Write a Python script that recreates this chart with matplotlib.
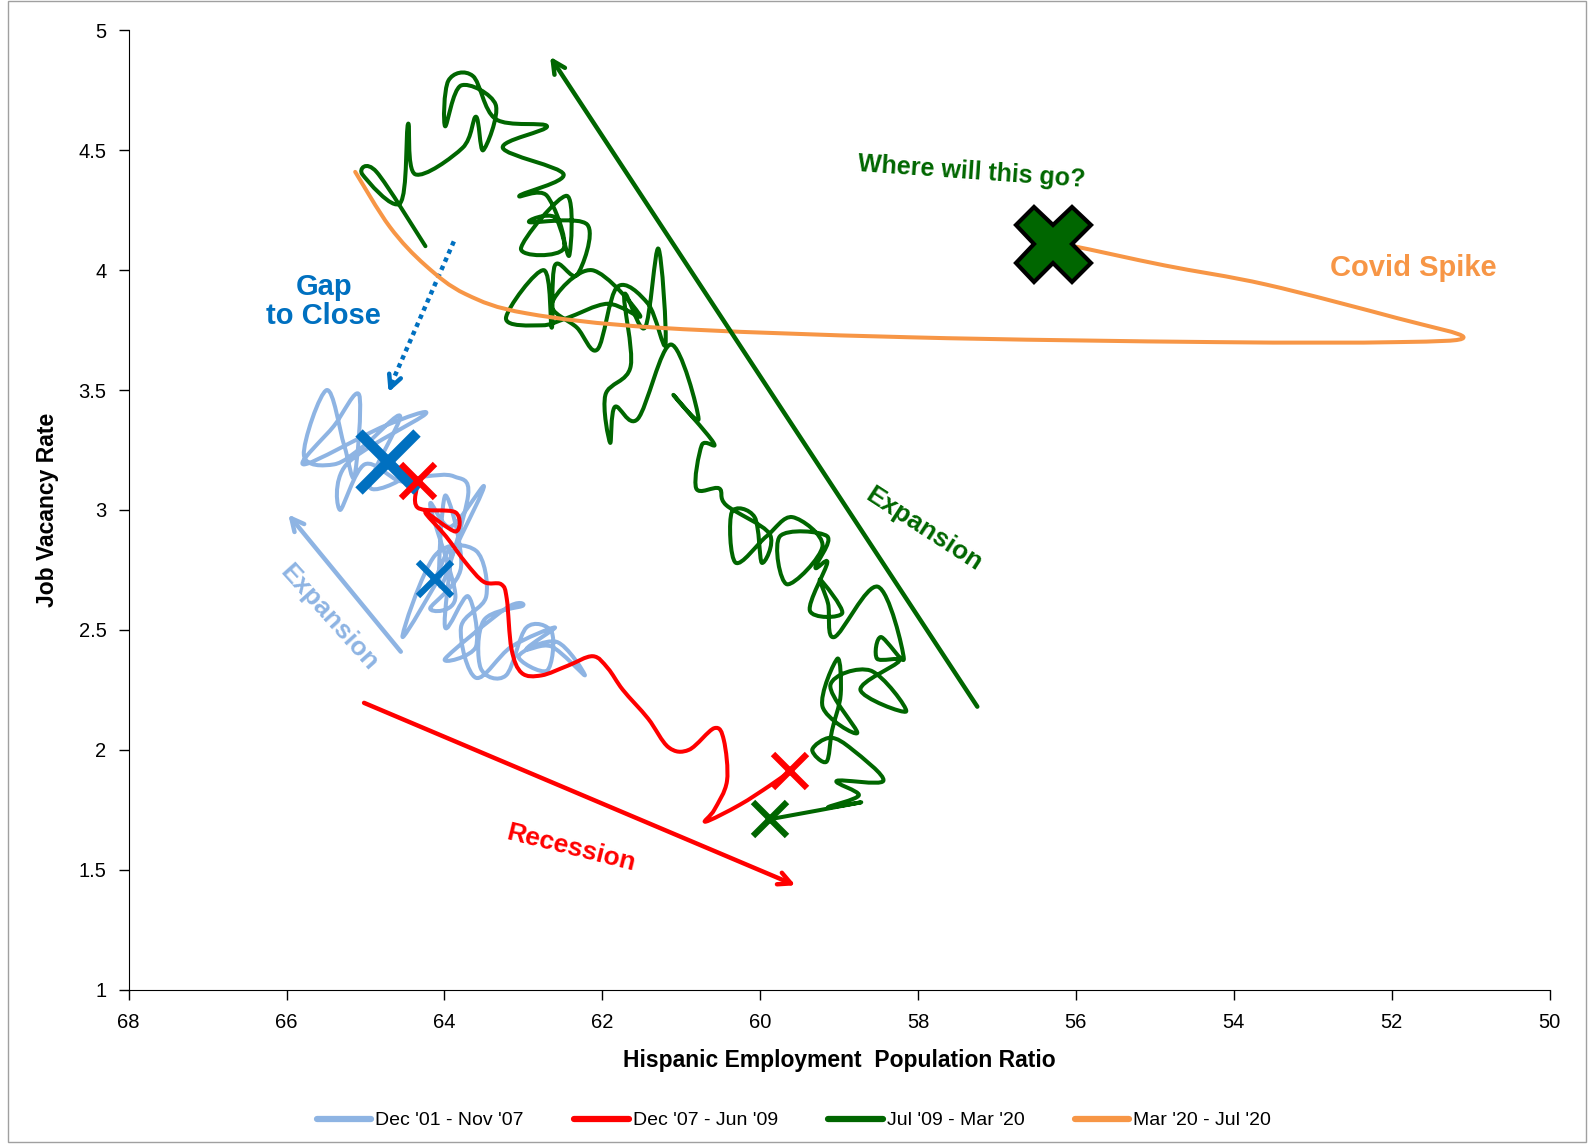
import numpy as np
import matplotlib
matplotlib.use('Agg')
import matplotlib.pyplot as plt
from matplotlib.path import Path
from matplotlib.patches import PathPatch, Rectangle

plt.rcParams['font.family'] = ['Liberation Sans', 'DejaVu Sans']

# ---- data (x = Hispanic EPOP, y = job vacancy rate) ----
blue_x = [64.12, 63.92, 63.99, 63.70, 63.60, 63.99, 63.22, 63.01, 63.50, 63.54,
          63.22, 62.96, 62.64, 62.70, 63.06, 62.58, 62.22, 62.64, 62.96, 62.60,
          63.15, 63.60, 63.79, 63.47, 63.60, 64.12, 64.53, 63.99, 63.79, 63.50,
          63.92, 64.18, 63.86, 64.18, 63.79, 63.99, 64.05, 63.70, 63.88, 64.24,
          64.56, 65.01, 65.32, 65.24, 64.24, 64.76, 65.78, 65.40, 65.08, 65.14,
          65.27, 65.49, 65.78, 65.40, 65.01, 64.56, 64.95, 64.50, 64.72]
blue_y = [2.71, 2.83, 2.51, 2.64, 2.43, 2.38, 2.59, 2.60, 2.54, 2.34,
          2.31, 2.51, 2.49, 2.33, 2.39, 2.45, 2.31, 2.43, 2.42, 2.51,
          2.43, 2.30, 2.51, 2.64, 2.83, 2.81, 2.47, 2.76, 2.89, 3.10,
          2.93, 3.02, 2.64, 2.59, 2.76, 3.06, 2.68, 3.06, 3.14, 3.14,
          3.12, 3.19, 3.00, 3.19, 3.40, 3.35, 3.19, 3.35, 3.48, 3.14,
          3.27, 3.50, 3.23, 3.19, 3.27, 3.39, 3.10, 3.14, 3.21]

red_x = [64.33, 64.34, 63.86, 63.86, 64.24, 63.98, 63.73, 63.50, 63.28, 63.21,
         63.15, 63.02, 62.77, 62.44, 62.12, 61.93, 61.74, 61.42, 61.16, 60.90,
         60.58, 60.46, 60.42, 60.58, 60.69, 60.26, 59.88, 59.62]
red_y = [3.12, 3.01, 2.99, 2.91, 2.99, 2.89, 2.78, 2.70, 2.69, 2.63,
         2.42, 2.32, 2.31, 2.35, 2.39, 2.34, 2.25, 2.13, 2.01, 2.00,
         2.09, 2.04, 1.87, 1.75, 1.70, 1.77, 1.85, 1.91]

green_x = [59.88, 58.73, 59.14, 58.75, 59.03, 58.44, 58.83, 59.11, 59.34, 59.16,
           59.09, 58.98, 59.02, 59.21, 58.77, 59.11, 58.60, 58.15, 58.73, 58.24,
           58.52, 58.47, 58.18, 58.51, 59.06, 59.14, 59.24, 58.96, 59.37, 59.15,
           59.30, 59.15, 59.75, 59.66, 59.21, 59.59, 59.92, 60.31, 60.36, 60.07,
           59.98, 59.88, 60.43, 60.52, 60.81, 60.74, 60.59, 61.10, 60.78, 61.13,
           61.55, 61.84, 61.90, 61.96, 61.64, 61.72, 61.46, 61.29, 61.20, 61.42,
           61.81, 62.06, 62.32, 62.64, 62.13, 61.52, 61.93, 62.45, 62.77, 63.22,
           62.74, 62.64, 62.60, 62.32, 62.19, 62.92, 62.60, 62.42, 62.45, 63.03,
           62.49, 62.70, 63.05, 62.49, 63.26, 62.70, 63.35, 63.64, 63.95, 63.99,
           63.79, 63.35, 63.51, 63.60, 63.77, 64.37, 64.46, 64.56, 65.04, 64.86,
           64.24]
green_y = [1.71, 1.78, 1.76, 1.81, 1.87, 1.87, 2.00, 2.05, 2.00, 1.95,
           2.08, 2.23, 2.38, 2.18, 2.07, 2.27, 2.33, 2.16, 2.25, 2.37,
           2.38, 2.47, 2.38, 2.68, 2.47, 2.61, 2.71, 2.57, 2.58, 2.78,
           2.76, 2.89, 2.89, 2.69, 2.85, 2.97, 2.89, 2.78, 2.99, 2.97,
           2.78, 2.90, 3.02, 3.09, 3.09, 3.27, 3.28, 3.48, 3.38, 3.69,
           3.38, 3.43, 3.28, 3.48, 3.60, 3.90, 3.76, 4.09, 3.69, 3.86,
           3.93, 3.67, 3.76, 3.86, 4.00, 3.81, 3.86, 3.80, 3.77, 3.80,
           4.00, 3.76, 4.02, 3.98, 4.19, 4.20, 4.22, 4.06, 4.31, 4.09,
           4.09, 4.31, 4.31, 4.40, 4.51, 4.60, 4.63, 4.81, 4.79, 4.60,
           4.77, 4.69, 4.50, 4.64, 4.51, 4.40, 4.61, 4.28, 4.40, 4.41,
           4.10]

orange_x = [65.13, 64.69, 64.24, 63.73, 62.96, 61.29, 58.09, 54.24, 51.93, 51.09,
            51.93, 53.59, 54.88, 56.03, 56.29]
orange_y = [4.41, 4.18, 4.02, 3.90, 3.82, 3.76, 3.72, 3.70, 3.70, 3.72,
            3.80, 3.94, 4.02, 4.10, 4.11]

labels = ["Dec '01 - Nov '07", "Dec '07 - Jun '09", "Jul '09 - Mar '20", "Mar '20 - Jul '20"]
colors = ['#8EB4E3', '#FF0000', '#006600', '#F79646']


def smooth_path(xs, ys):
    # excel style smoothed line: catmull-rom turned into cubic bezier segments
    P = np.column_stack([xs, ys])
    verts = [P[0]]
    codes = [Path.MOVETO]
    n = len(P)
    for i in range(n - 1):
        p0 = P[i - 1] if i > 0 else P[i]
        p1 = P[i]
        p2 = P[i + 1]
        p3 = P[i + 2] if i + 2 < n else P[i + 1]
        verts += [p1 + (p2 - p0) / 6.0, p2 - (p3 - p1) / 6.0, p2]
        codes += [Path.CURVE4] * 3
    return Path(verts, codes)


fig = plt.figure(figsize=(15.88, 11.47), dpi=100)
ax = fig.add_axes([0.081, 0.1373, 0.8948, 0.8362])

series = [(blue_x, blue_y), (red_x, red_y), (green_x, green_y), (orange_x, orange_y)]
for (xs, ys), c, lab in zip(series, colors, labels):
    patch = PathPatch(smooth_path(xs, ys), facecolor='none', edgecolor=c, lw=2.9,
                      joinstyle='round', capstyle='round', zorder=3)
    ax.add_patch(patch)
    ax.plot([], [], color=c, lw=4.5, label=lab, solid_capstyle='round')

# markers
ax.plot(64.72, 3.20, marker='x', color='#0070C0', ms=42, mew=7.5, zorder=5)
ax.plot(64.12, 2.71, marker='x', color='#0070C0', ms=25, mew=4.5, zorder=5)
ax.plot(64.33, 3.12, marker='x', color='#FF0000', ms=25, mew=4.5, zorder=5)
ax.plot(59.62, 1.91, marker='x', color='#FF0000', ms=25, mew=4.5, zorder=5)
ax.plot(59.88, 1.71, marker='x', color='#006600', ms=25, mew=4.5, zorder=5)
ax.plot(56.29, 4.11, marker='X', color='#006600', mec='black', ms=54, mew=3, zorder=6)

# arrows
head = '->,head_length=0.9,head_width=0.45'
ax.annotate('', xy=(66.00, 2.99), xytext=(64.53, 2.40),
            arrowprops=dict(arrowstyle=head, color='#8EB4E3', lw=3.2))
ax.annotate('', xy=(59.52, 1.43), xytext=(65.05, 2.20),
            arrowprops=dict(arrowstyle=head, color='#FF0000', lw=3.2))
ax.annotate('', xy=(62.68, 4.90), xytext=(57.23, 2.17),
            arrowprops=dict(arrowstyle=head, color='#006600', lw=3.2))
ax.plot([63.88, 64.68], [4.12, 3.52], color='#0070C0', lw=3.2, ls=(0, (1, 1)))
ax.annotate('', xy=(64.72, 3.48), xytext=(64.66, 3.53),
            arrowprops=dict(arrowstyle=head, color='#0070C0', lw=3.2))

# annotation texts
ax.text(65.53, 3.87, 'Gap\nto Close', color='#0070C0', fontsize=21, fontweight='bold',
        ha='center', va='center', linespacing=1.05)
ax.text(57.32, 4.41, 'Where will this go?', color='#006600', fontsize=18, fontweight='bold',
        ha='center', va='center', rotation=-4)
ax.text(51.73, 4.01, 'Covid Spike', color='#F79646', fontsize=21, fontweight='bold',
        ha='center', va='center')
ax.text(65.46, 2.55, 'Expansion', color='#8EB4E3', fontsize=19, fontweight='bold',
        ha='center', va='center', rotation=-48, rotation_mode='anchor')
ax.text(57.93, 2.92, 'Expansion', color='#006600', fontsize=19, fontweight='bold',
        ha='center', va='center', rotation=-33, rotation_mode='anchor')
ax.text(62.40, 1.59, 'Recession', color='#FF0000', fontsize=19, fontweight='bold',
        ha='center', va='center', rotation=-14, rotation_mode='anchor')

# axes
ax.set_xlim(68, 50)
ax.set_ylim(1, 5)
ax.set_xticks(np.arange(68, 49, -2))
ax.set_yticks(np.arange(1, 5.01, 0.5))
ax.set_yticklabels(['1', '1.5', '2', '2.5', '3', '3.5', '4', '4.5', '5'])
ax.tick_params(direction='out', length=7, labelsize=14.5, width=1)
ax.tick_params(axis='x', pad=10)
ax.tick_params(axis='y', pad=9)
ax.spines['top'].set_visible(False)
ax.spines['right'].set_visible(False)
ax.set_xlabel('Hispanic Employment  Population Ratio', fontsize=16.5, fontweight='bold', labelpad=12)
ax.set_ylabel('Job Vacancy Rate', fontsize=16.5, fontweight='bold', labelpad=14)

fig.legend(loc='center', bbox_to_anchor=(0.5, 0.023), ncol=4, frameon=False,
           handlelength=2.8, columnspacing=2.6, handletextpad=0.2,
           prop={'family': ['Liberation Sans Narrow', 'Liberation Sans'], 'size': 14})

fig.patches.append(Rectangle((0.005, 0.004), 0.994, 0.995, transform=fig.transFigure,
                             fill=False, edgecolor='#A0A0A0', lw=1))

fig.savefig('out.png', dpi=100)
